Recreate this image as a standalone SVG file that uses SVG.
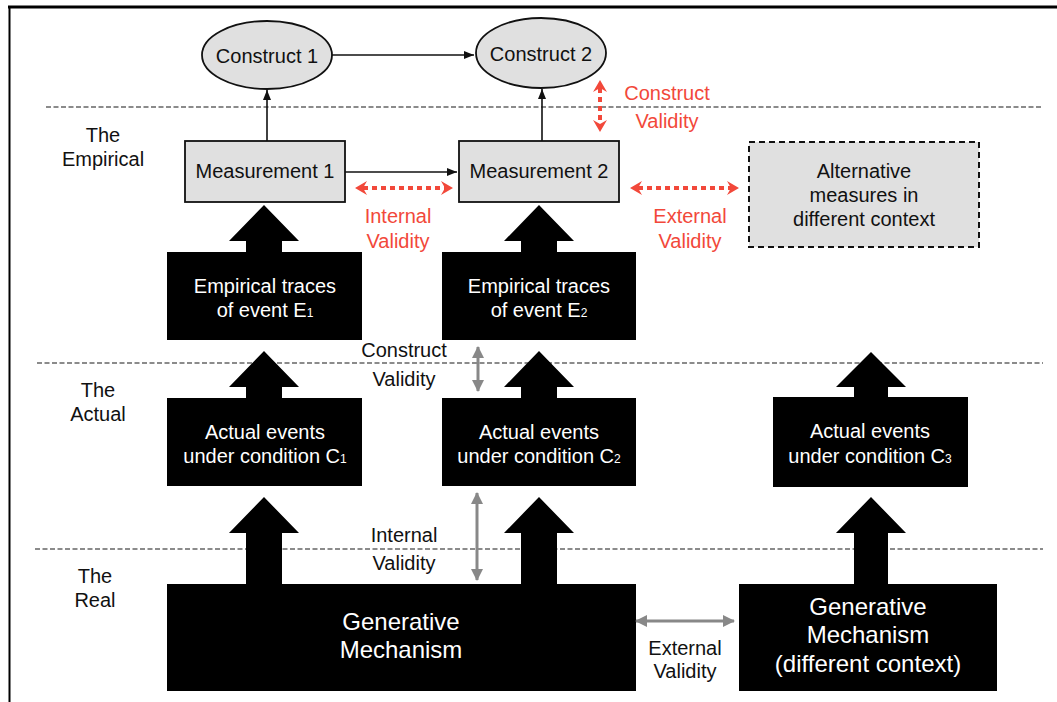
<svg xmlns="http://www.w3.org/2000/svg" width="1057" height="702" viewBox="0 0 1057 702">
  <defs>
    <style>
      text { font-family: "Liberation Sans", Arial, Helvetica, sans-serif; font-size: 20px; text-anchor: middle; }
      .dark { fill: #111; }
      .white { fill: #fff; }
      .red { fill: #f2483a; }
      .big { font-size: 24px; }
      .sub { font-size: 12px; }
      .level { stroke: #666; stroke-width: 1.6; stroke-dasharray: 5 2.5; fill: none; }
      .concept { fill: #e0e0e0; stroke: #111; stroke-width: 1.8; }
      .alt { fill: #e0e0e0; stroke: #111; stroke-width: 2; stroke-dasharray: 6 4; }
      .solid { fill: #000; }
      .thin { stroke: #111; stroke-width: 1.6; fill: none; }
      .reddot { stroke: #f2483a; stroke-width: 4; stroke-dasharray: 5 4; fill: none; }
      .grey { stroke: #888; stroke-width: 3; fill: none; }
    </style>
    <marker id="thinHead" viewBox="0 0 10 8" refX="10" refY="4" markerWidth="10" markerHeight="8" markerUnits="userSpaceOnUse" orient="auto-start-reverse">
      <path d="M0,0 L10,4 L0,8 Z" fill="#111"/>
    </marker>
    <marker id="redHead" viewBox="0 0 12 14" refX="4" refY="7" markerWidth="12" markerHeight="14" markerUnits="userSpaceOnUse" orient="auto-start-reverse">
      <path d="M0,0 L12,7 L0,14 L4,7 Z" fill="#f2483a"/>
    </marker>
    <marker id="greyHead" viewBox="0 0 12 12" refX="11" refY="6" markerWidth="12" markerHeight="12" markerUnits="userSpaceOnUse" orient="auto-start-reverse">
      <path d="M0,0 L12,6 L0,12 Z" fill="#888"/>
    </marker>
  </defs>

  <rect x="0" y="0" width="1057" height="702" fill="#fff"/>

  <!-- page frame -->
  <g id="frame">
    <line x1="8" y1="7" x2="1057" y2="7" stroke="#000" stroke-width="3"/>
    <line x1="9.5" y1="6" x2="9.5" y2="702" stroke="#000" stroke-width="2"/>
  </g>

  <!-- level separators -->
  <g id="levels">
    <line class="level" x1="46" y1="107" x2="1043" y2="107"/>
    <line class="level" x1="37" y1="363" x2="1043" y2="363"/>
    <line class="level" x1="35" y1="549" x2="1043" y2="549"/>
  </g>

  <!-- level labels -->
  <g id="label-empirical">
    <text class="dark" x="103" y="142">The</text>
    <text class="dark" x="103" y="166">Empirical</text>
  </g>
  <g id="label-actual">
    <text class="dark" x="98" y="397">The</text>
    <text class="dark" x="98" y="421">Actual</text>
  </g>
  <g id="label-real">
    <text class="dark" x="95" y="583">The</text>
    <text class="dark" x="95" y="607">Real</text>
  </g>

  <!-- block arrows (upward causal flow) -->
  <g id="block-arrows" class="solid">
    <polygon points="264,205 299,241 282,241 282,254 246,254 246,241 229,241"/>
    <polygon points="539,205 574,241 557,241 557,254 521,254 521,241 504,241"/>
    <polygon points="264,351 299,387 282,387 282,400 246,400 246,387 229,387"/>
    <polygon points="539,351 574,387 557,387 557,400 521,400 521,387 504,387"/>
    <polygon points="871,352 906,387 888,387 888,399 854,399 854,387 836,387"/>
    <polygon points="264,497 299,533 282,533 282,586 246,586 246,533 229,533"/>
    <polygon points="539,497 574,533 557,533 557,586 521,586 521,533 504,533"/>
    <polygon points="871,497 906,533 888,533 888,586 854,586 854,533 836,533"/>
  </g>

  <g id="construct1">
    <ellipse class="concept" cx="267" cy="55" rx="65" ry="34"/>
    <text class="dark" x="267" y="63">Construct 1</text>
  </g>
  <g id="construct2">
    <ellipse class="concept" cx="541" cy="53" rx="65" ry="35"/>
    <text class="dark" x="541" y="61">Construct 2</text>
  </g>

  <g id="measurement1">
    <rect class="concept" x="185" y="141" width="160" height="61"/>
    <text class="dark" x="265" y="178">Measurement 1</text>
  </g>
  <g id="measurement2">
    <rect class="concept" x="459" y="141" width="160" height="61"/>
    <text class="dark" x="539" y="178">Measurement 2</text>
  </g>
  <g id="alt-measures">
    <rect class="alt" x="749" y="142" width="230" height="105"/>
    <text class="dark" x="864" y="178">Alternative</text>
    <text class="dark" x="864" y="202">measures in</text>
    <text class="dark" x="864" y="226">different context</text>
  </g>

  <g id="traces1">
    <rect class="solid" x="167" y="252" width="195" height="88"/>
    <text class="white" x="265" y="293">Empirical traces</text>
    <text class="white" x="265" y="317">of event E<tspan class="sub">1</tspan></text>
  </g>
  <g id="traces2">
    <rect class="solid" x="442" y="252" width="194" height="88"/>
    <text class="white" x="539" y="293">Empirical traces</text>
    <text class="white" x="539" y="317">of event E<tspan class="sub">2</tspan></text>
  </g>

  <g id="events1">
    <rect class="solid" x="167" y="398" width="195" height="88"/>
    <text class="white" x="265" y="439">Actual events</text>
    <text class="white" x="265" y="463">under condition C<tspan class="sub">1</tspan></text>
  </g>
  <g id="events2">
    <rect class="solid" x="442" y="398" width="194" height="88"/>
    <text class="white" x="539" y="439">Actual events</text>
    <text class="white" x="539" y="463">under condition C<tspan class="sub">2</tspan></text>
  </g>
  <g id="events3">
    <rect class="solid" x="773" y="397" width="195" height="90"/>
    <text class="white" x="870" y="438">Actual events</text>
    <text class="white" x="870" y="463">under condition C<tspan class="sub">3</tspan></text>
  </g>

  <g id="mechanism">
    <rect class="solid" x="167" y="584" width="469" height="107"/>
    <text class="white big" x="401" y="630">Generative</text>
    <text class="white big" x="401" y="658">Mechanism</text>
  </g>
  <g id="mechanism-other">
    <rect class="solid" x="739" y="584" width="258" height="107"/>
    <text class="white big" x="868" y="615">Generative</text>
    <text class="white big" x="868" y="643">Mechanism</text>
    <text class="white big" x="868" y="672">(different context)</text>
  </g>

  <!-- connectors -->
  <g id="connectors">
    <line class="thin" x1="332" y1="55" x2="474" y2="55" marker-end="url(#thinHead)"/>
    <line class="thin" x1="345" y1="172" x2="457" y2="172" marker-end="url(#thinHead)"/>
    <line class="thin" x1="267" y1="141" x2="267" y2="90" marker-end="url(#thinHead)"/>
    <line class="thin" x1="542" y1="141" x2="542" y2="89" marker-end="url(#thinHead)"/>

    <line class="reddot" x1="600" y1="88" x2="600" y2="124" marker-start="url(#redHead)" marker-end="url(#redHead)"/>
    <line class="reddot" x1="363" y1="188" x2="445" y2="188" marker-start="url(#redHead)" marker-end="url(#redHead)"/>
    <line class="reddot" x1="638" y1="188" x2="731" y2="188" marker-start="url(#redHead)" marker-end="url(#redHead)"/>

    <line class="grey" x1="478" y1="347" x2="478" y2="391" marker-start="url(#greyHead)" marker-end="url(#greyHead)"/>
    <line class="grey" x1="477" y1="493" x2="477" y2="580" marker-start="url(#greyHead)" marker-end="url(#greyHead)"/>
    <line class="grey" x1="636" y1="621" x2="734" y2="621" marker-start="url(#greyHead)" marker-end="url(#greyHead)"/>
  </g>

  <!-- validity labels -->
  <g id="validity-labels">
    <text class="red" x="667" y="100">Construct</text>
    <text class="red" x="667" y="128">Validity</text>
    <text class="red" x="398" y="223">Internal</text>
    <text class="red" x="398" y="248">Validity</text>
    <text class="red" x="690" y="223">External</text>
    <text class="red" x="690" y="248">Validity</text>
    <text class="dark" x="404" y="357">Construct</text>
    <text class="dark" x="404" y="386">Validity</text>
    <text class="dark" x="404" y="542">Internal</text>
    <text class="dark" x="404" y="570">Validity</text>
    <text class="dark" x="685" y="655">External</text>
    <text class="dark" x="685" y="678">Validity</text>
  </g>
</svg>
